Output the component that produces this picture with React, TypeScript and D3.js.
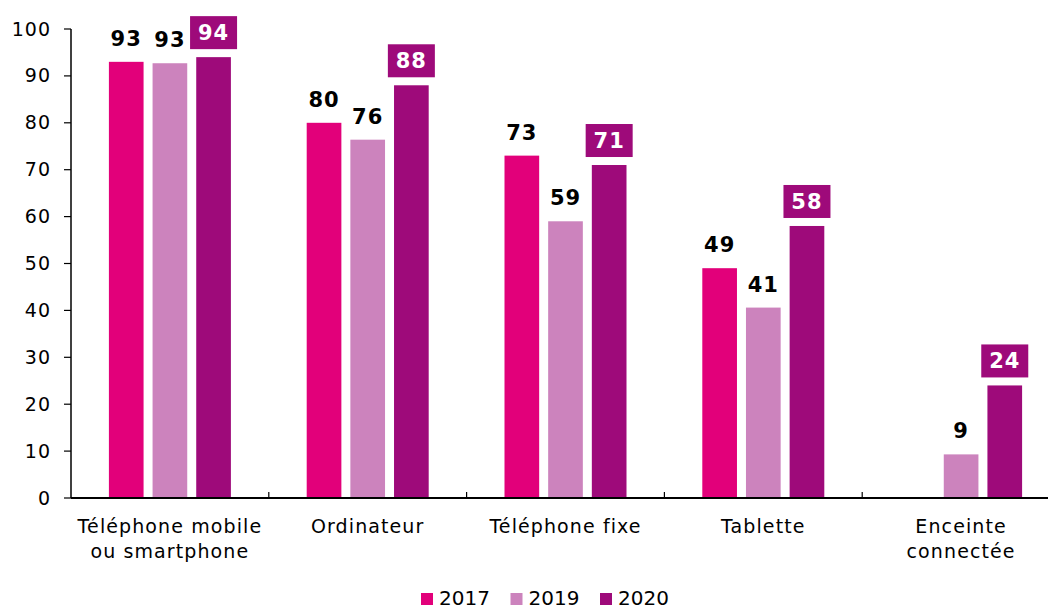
import React from "react";
import * as d3 from "d3";

const categories: string[][] = [
  ["Téléphone mobile", "ou smartphone"],
  ["Ordinateur"],
  ["Téléphone fixe"],
  ["Tablette"],
  ["Enceinte", "connectée"],
];
const years = ["2017", "2019", "2020"];
const values2017: (number | null)[] = [93, 80, 73, 49, null];
const values2019: (number | null)[] = [92.7, 76.4, 59, 40.6, 9.3];
const values2020: (number | null)[] = [94, 88, 71, 58, 24];
const colors = ["#E2007A", "#CC83BD", "#9E0A7A"];
const yTicks = [0, 10, 20, 30, 40, 50, 60, 70, 80, 90, 100];

const W = 1048;
const H = 610;
const FONT = "'DejaVu Sans', Verdana, sans-serif";

export default function App() {
  const series = [values2017, values2019, values2020];
  const x0 = 71;
  const x1 = 1060;
  const yBase = 498;
  const yTop = 29;
  const y = d3.scaleLinear().domain([0, 100]).range([yBase, yTop]);
  const xCat = d3
    .scaleBand<number>()
    .domain(categories.map((_, i) => i))
    .range([x0, x1])
    .paddingInner(0)
    .paddingOuter(0);
  const xSub = d3
    .scaleBand<number>()
    .domain([0, 1, 2])
    .range([0, xCat.bandwidth()])
    .paddingInner(0.206)
    .paddingOuter(0.868);

  return (
    <svg
      width={W}
      height={H}
      style={{ position: "absolute", left: 0, top: 0, display: "block" }}
      fontFamily={FONT}
    >
      <rect width={W} height={H} fill="#fff" />
      {categories.map((_, ci) =>
        series.map((s, si) => {
          const v = s[ci];
          if (v == null) return null;
          const bx = (xCat(ci) as number) + (xSub(si) as number);
          return (
            <rect
              key={`b${ci}-${si}`}
              x={bx}
              y={y(v)}
              width={xSub.bandwidth()}
              height={yBase - y(v)}
              fill={colors[si]}
            />
          );
        })
      )}
      {categories.map((_, ci) =>
        series.map((s, si) => {
          const v = s[ci];
          if (v == null) return null;
          const cx = (xCat(ci) as number) + (xSub(si) as number) + xSub.bandwidth() / 2;
          const txt = String(Math.round(v));
          if (si === 2) {
            const bw = 47;
            const bh = 33;
            const by = y(v) - 8 - bh;
            return (
              <g key={`l${ci}-${si}`}>
                <rect x={cx - bw / 2} y={by} width={bw} height={bh} fill={colors[2]} />
                <text
                  x={cx}
                  y={by + bh / 2 + 7.5}
                  textAnchor="middle"
                  fontSize={21}
                  fontWeight="bold"
                  letterSpacing={1}
                  fill="#fff"
                >
                  {txt}
                </text>
              </g>
            );
          }
          return (
            <text
              key={`l${ci}-${si}`}
              x={cx}
              y={y(v) - 16}
              textAnchor="middle"
              fontSize={21}
              fontWeight="bold"
              letterSpacing={1}
              fill="#000"
            >
              {txt}
            </text>
          );
        })
      )}
      <line x1={x0} x2={x0} y1={yTop} y2={yBase} stroke="#000" strokeWidth={1.5} />
      {yTicks.map((t) => (
        <g key={`t${t}`}>
          <line x1={x0 - 7} x2={x0} y1={y(t)} y2={y(t)} stroke="#000" strokeWidth={1.2} />
          <text x={51} y={y(t) + 6.5} textAnchor="end" fontSize={19} letterSpacing={1} fill="#000">
            {t}
          </text>
        </g>
      ))}
      <line x1={x0} x2={x1} y1={yBase} y2={yBase} stroke="#000" strokeWidth={2} />
      {categories.map((_, ci) =>
        ci === 0 ? null : (
          <line
            key={`xt${ci}`}
            x1={xCat(ci) as number}
            x2={xCat(ci) as number}
            y1={yBase}
            y2={yBase - 6}
            stroke="#000"
            strokeWidth={1.2}
          />
        )
      )}
      {categories.map((lines, ci) => {
        const cx = (xCat(ci) as number) + xCat.bandwidth() / 2;
        return (
          <text key={`c${ci}`} textAnchor="middle" fontSize={19} letterSpacing={1.1} fill="#000">
            {lines.map((ln, li) => (
              <tspan key={li} x={cx} y={533 + li * 25}>
                {ln}
              </tspan>
            ))}
          </text>
        );
      })}
      {years.map((yr, i) => {
        const lx = 421 + i * 89.5;
        return (
          <g key={yr}>
            <rect x={lx} y={593} width={12} height={12} fill={colors[i]} />
            <text x={lx + 18} y={604.5} fontSize={20} fill="#000">
              {yr}
            </text>
          </g>
        );
      })}
    </svg>
  );
}
